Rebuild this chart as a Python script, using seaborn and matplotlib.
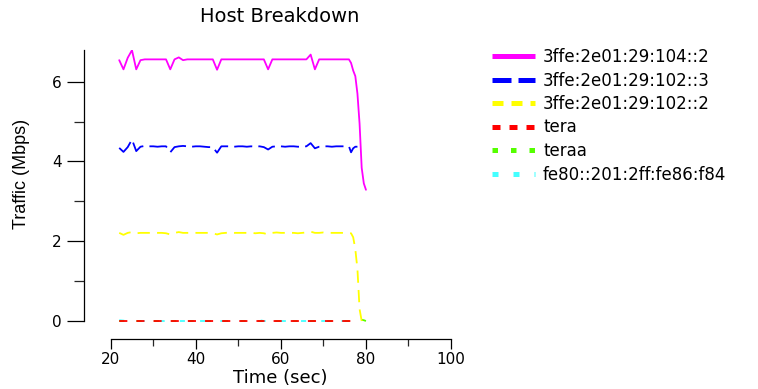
import numpy as np
import pandas as pd
import matplotlib
matplotlib.use("Agg")
import matplotlib.pyplot as plt
from matplotlib.lines import Line2D
import seaborn as sns

# ---------------- data ----------------
time = [22, 23, 24, 25, 26, 27, 28, 29, 30, 31, 32, 33, 34, 35, 36, 37, 38, 39,
        40, 41, 42, 43, 44, 45, 46, 47, 48, 49, 50, 51, 52, 53, 54, 55, 56, 57,
        58, 59, 60, 61, 62, 63, 64, 65, 66, 67, 68, 69, 70, 71, 72, 73, 74, 75,
        76, 76.5, 77, 77.5, 78, 78.5, 79, 79.5, 80]

host_104_2 = [6.54, 6.31, 6.60, 6.79, 6.31, 6.54, 6.56, 6.56, 6.56, 6.56, 6.56, 6.56,
              6.31, 6.56, 6.61, 6.54, 6.56, 6.56, 6.56, 6.56, 6.56, 6.56, 6.56, 6.30,
              6.56, 6.56, 6.56, 6.56, 6.56, 6.56, 6.56, 6.56, 6.56, 6.56, 6.56, 6.31,
              6.56, 6.56, 6.56, 6.56, 6.56, 6.56, 6.56, 6.56, 6.56, 6.68, 6.31, 6.56,
              6.56, 6.56, 6.56, 6.56, 6.56, 6.56, 6.56, 6.47, 6.28, 6.14, 5.70, 4.95,
              3.84, 3.45, 3.29]

host_102_3 = [4.34, 4.24, 4.36, 4.55, 4.26, 4.37, 4.39, 4.38, 4.38, 4.37, 4.38, 4.38,
              4.23, 4.36, 4.38, 4.39, 4.38, 4.37, 4.38, 4.38, 4.37, 4.36, 4.36, 4.22,
              4.38, 4.38, 4.38, 4.37, 4.38, 4.38, 4.37, 4.38, 4.37, 4.38, 4.36, 4.30,
              4.37, 4.38, 4.38, 4.37, 4.38, 4.38, 4.37, 4.37, 4.38, 4.46, 4.33, 4.37,
              4.38, 4.38, 4.37, 4.38, 4.38, 4.38, 4.38, 4.23, 4.33, 4.37, 4.37, None,
              None, None, None]

host_102_2 = [2.21, 2.16, 2.21, 2.23, 2.20, 2.21, 2.21, 2.21, 2.21, 2.21, 2.21, 2.20,
              2.17, 2.21, 2.23, 2.21, 2.21, 2.21, 2.21, 2.21, 2.21, 2.21, 2.20, 2.17,
              2.20, 2.21, 2.22, 2.21, 2.21, 2.21, 2.21, 2.21, 2.20, 2.21, 2.20, 2.17,
              2.21, 2.22, 2.21, 2.21, 2.21, 2.21, 2.20, 2.21, 2.22, 2.24, 2.21, 2.21,
              2.22, 2.21, 2.21, 2.21, 2.21, 2.21, 2.21, 2.20, 2.10, 1.80, 1.30, 0.30,
              0.00, None, None]

host_tera = [0.00, 0.00, 0.00, 0.00, 0.00, 0.00, 0.00, 0.00, 0.00, 0.00, 0.00, 0.00,
             0.00, 0.00, 0.00, 0.00, 0.00, 0.00, 0.00, 0.00, 0.00, 0.00, 0.00, 0.00,
             0.00, 0.00, 0.00, 0.00, 0.00, 0.00, 0.00, 0.00, 0.00, 0.00, 0.00, 0.00,
             0.00, 0.00, 0.00, 0.00, 0.00, 0.00, 0.00, 0.00, 0.00, 0.00, 0.00, 0.00,
             0.00, 0.00, 0.00, 0.00, 0.00, 0.00, 0.00, 0.00, 0.00, 0.01, 0.01, None,
             None, None, None]

host_teraa = [0.00, 0.00, 0.00, 0.00, 0.00, 0.00, 0.00, 0.00, 0.00, 0.00, 0.00, 0.00,
              0.00, 0.00, 0.00, 0.00, 0.00, 0.00, 0.00, 0.00, 0.00, 0.00, 0.00, 0.00,
              0.00, 0.00, 0.00, 0.00, 0.00, 0.00, 0.00, 0.00, 0.00, 0.00, 0.00, 0.00,
              0.00, 0.00, 0.00, 0.00, 0.00, 0.00, 0.00, 0.00, 0.00, 0.00, 0.00, 0.00,
              0.00, 0.00, 0.00, 0.00, 0.00, 0.00, 0.00, 0.00, 0.00, 0.00, 0.00, 0.01,
              0.03, 0.02, 0.00]

host_fe80 = [0.02, 0.01, 0.00, 0.00, 0.00, 0.00, 0.00, 0.00, 0.00, 0.00, 0.00, 0.00,
             0.00, 0.00, 0.00, 0.00, 0.00, 0.00, 0.00, 0.00, 0.00, 0.00, 0.00, 0.00,
             0.00, 0.00, 0.00, 0.00, 0.00, 0.00, 0.00, 0.00, 0.00, 0.02, 0.00, 0.00,
             0.00, 0.00, 0.00, 0.00, 0.00, 0.00, 0.00, 0.00, 0.00, 0.00, 0.00, 0.00,
             0.00, 0.00, 0.00, 0.00, 0.00, 0.00, 0.00, 0.00, 0.00, 0.00, 0.00, None,
             None, None, None]

hosts = ["3ffe:2e01:29:104::2", "3ffe:2e01:29:102::3", "3ffe:2e01:29:102::2",
         "tera", "teraa", "fe80::201:2ff:fe86:f84"]
series = [host_104_2, host_102_3, host_102_2, host_tera, host_teraa, host_fe80]
colors = ["#FF00FF", "#0000FF", "#FFFF00", "#FF0000", "#55FF00", "#44FFFF"]

x_ticks = [20, 40, 60, 80, 100]
x_minor = [30, 50, 70, 90]
y_ticks = [0, 2, 4, 6]
y_minor = [1, 3, 5]

# ---------------- long-form table ----------------
frames = []
for name, vals in zip(hosts, series):
    d = pd.DataFrame({"time": time, "traffic": vals})
    d["host"] = name
    frames.append(d.dropna())
df = pd.concat(frames, ignore_index=True)
df["traffic"] = df["traffic"].astype(float)

# ---------------- style ----------------
sns.set_style("ticks")
plt.rcParams["font.family"] = ["DejaVu Sans"]
plt.rcParams["text.color"] = "black"

# dash patterns (in units of line width)
plot_dashes = {hosts[0]: "", hosts[1]: (10.0, 3.4), hosts[2]: (6.8, 4.0),
               hosts[3]: (4.5, 5.0), hosts[4]: (2.8, 6.8), hosts[5]: (2.8, 8.4)}
legend_dashes = [None, (3.8, 1.4), (2.2, 1.6), (1.6, 1.8), (1.1, 2.6), (1.2, 3.0)]

W, H = 758, 389
fig = plt.figure(figsize=(W / 100, H / 100), dpi=100)
ax = fig.add_axes([84 / W, 1 - 339 / H, 374 / W, 289 / H])

# last legend entry drawn first, so the first host ends on top
draw_order = hosts[::-1]
sns.lineplot(data=df, x="time", y="traffic", hue="host", style="host",
             hue_order=draw_order, style_order=draw_order,
             palette=dict(zip(hosts, colors)),
             dashes=plot_dashes, estimator=None, sort=False, linewidth=1.3,
             legend=False, ax=ax)

ax.set_xlim(13.72, 101.64)
ax.set_ylim(-0.451, 6.795)

for s in ["top", "right"]:
    ax.spines[s].set_visible(False)
ax.spines["left"].set_bounds(0, 6.795)
ax.spines["bottom"].set_bounds(20, 100)
for s in ["left", "bottom"]:
    ax.spines[s].set_linewidth(0.9)
    ax.spines[s].set_color("black")

ax.set_xticks(x_ticks)
ax.set_xticks(x_minor, minor=True)
ax.set_yticks(y_ticks)
ax.set_yticks(y_minor, minor=True)
ax.set_xticklabels([str(v) for v in x_ticks])
ax.set_yticklabels([str(v) for v in y_ticks])
ax.tick_params(axis="x", which="major", length=7, width=0.9, pad=2.5,
               labelsize=11, colors="black")
ax.tick_params(axis="x", which="minor", length=5, width=0.9)
ax.tick_params(axis="y", which="major", length=12, width=0.9, pad=4,
               labelsize=11, colors="black")
ax.tick_params(axis="y", which="minor", length=7, width=0.9)
ax.set_xlabel("")
ax.set_ylabel("")

fig.text(280 / W, 1 - 17 / H, "Host Breakdown", ha="center", va="center",
         fontsize=14, color="black")
fig.text(280 / W, 1 - 378 / H, "Time (sec)", ha="center", va="center",
         fontsize=13, color="black")
fig.text(22 / W, 1 - 174 / H, "Traffic (Mbps)", ha="center", va="center",
         rotation=90, fontsize=13, color="black",
         family=["Liberation Sans", "DejaVu Sans"])

# legend
handles = []
for c, dsh in zip(colors, legend_dashes):
    if dsh is None:
        handles.append(Line2D([], [], color=c, lw=3.6, linestyle="-",
                              solid_capstyle="butt"))
    else:
        handles.append(Line2D([], [], color=c, lw=3.6, linestyle=(0, dsh),
                              dash_capstyle="butt"))
leg = fig.legend(handles, hosts, loc="upper left",
                 bbox_to_anchor=(492 / W, 1 - 48 / H), bbox_transform=fig.transFigure,
                 frameon=False, fontsize=12, handlelength=2.58, handletextpad=0.48,
                 labelspacing=0.33, borderpad=0, borderaxespad=0)
for t in leg.get_texts():
    t.set_color("black")

fig.savefig("out.png", dpi=100)
